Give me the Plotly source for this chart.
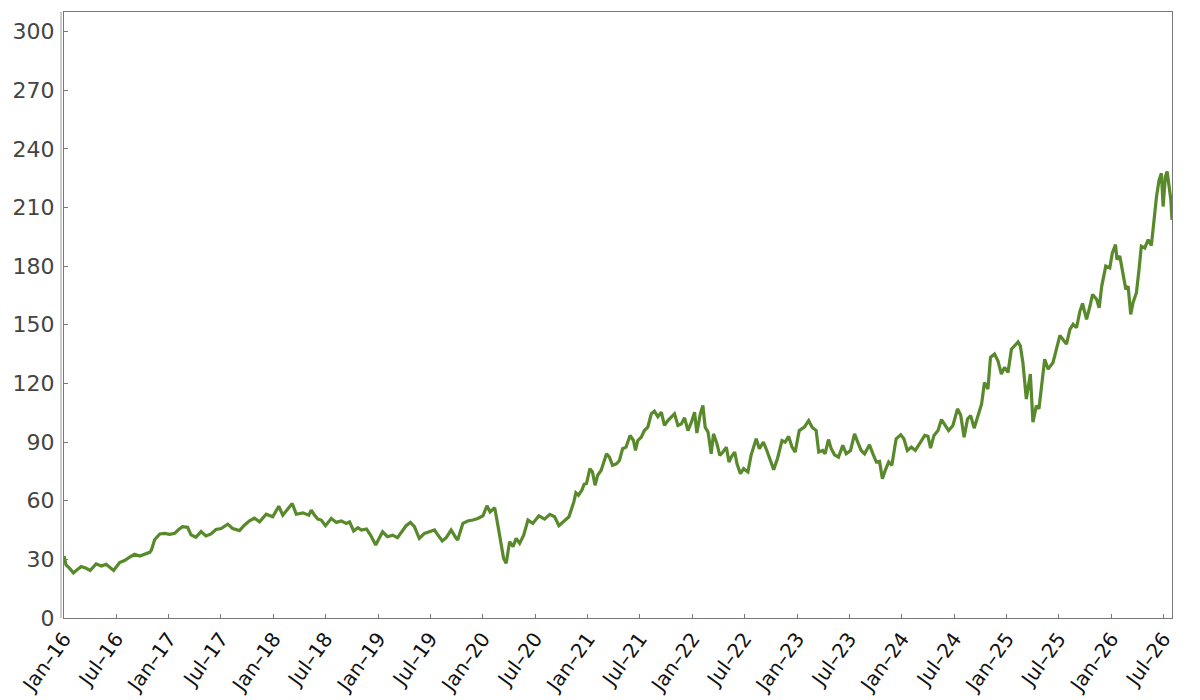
import plotly.graph_objects as go

# Fechas y valores (aprox. cada dos semanas)
dates = [
    "2016-01-01", "2016-01-08", "2016-01-20", "2016-02-03", "2016-02-18", "2016-03-01",
    "2016-03-18", "2016-04-01", "2016-04-22", "2016-05-10", "2016-05-27", "2016-06-14",
    "2016-06-22", "2016-07-13", "2016-07-30", "2016-08-17", "2016-09-03", "2016-09-21",
    "2016-10-08", "2016-10-26", "2016-11-01", "2016-11-12", "2016-11-30", "2016-12-17",
    "2017-01-04", "2017-01-21", "2017-02-02", "2017-02-17", "2017-03-07", "2017-03-19",
    "2017-04-05", "2017-04-23", "2017-05-10", "2017-05-28", "2017-06-14", "2017-07-02",
    "2017-07-25", "2017-08-11", "2017-09-04", "2017-09-21", "2017-10-09", "2017-10-26",
    "2017-11-13", "2017-12-06", "2017-12-29", "2018-01-19", "2018-02-02", "2018-02-20",
    "2018-03-07", "2018-03-21", "2018-04-13", "2018-05-04", "2018-05-12", "2018-05-24",
    "2018-06-04", "2018-06-16", "2018-07-01", "2018-07-21", "2018-08-08", "2018-08-25",
    "2018-09-12", "2018-09-23", "2018-10-07", "2018-10-22", "2018-11-03", "2018-11-21",
    "2018-12-05", "2018-12-23", "2019-01-04", "2019-01-16", "2019-02-02", "2019-02-20",
    "2019-03-09", "2019-03-27", "2019-04-08", "2019-04-23", "2019-05-07", "2019-05-24",
    "2019-06-11", "2019-06-28", "2019-07-16", "2019-07-24", "2019-08-12", "2019-08-26",
    "2019-09-12", "2019-09-30", "2019-10-05", "2019-10-23", "2019-11-09", "2019-11-27",
    "2019-12-14", "2020-01-01", "2020-01-15", "2020-01-26", "2020-02-11", "2020-02-22",
    "2020-03-05", "2020-03-13", "2020-03-22", "2020-04-03", "2020-04-15", "2020-04-26",
    "2020-05-08", "2020-05-22", "2020-06-06", "2020-06-23", "2020-07-14", "2020-08-03",
    "2020-08-21", "2020-09-07", "2020-09-22", "2020-10-12", "2020-10-27", "2020-11-13",
    "2020-11-20", "2020-11-29", "2020-12-11", "2020-12-19", "2020-12-27", "2021-01-08",
    "2021-01-17", "2021-01-26", "2021-02-04", "2021-02-16", "2021-03-07", "2021-03-17",
    "2021-03-28", "2021-04-11", "2021-04-21", "2021-05-02", "2021-05-14", "2021-05-28",
    "2021-06-09", "2021-06-16", "2021-06-24", "2021-07-06", "2021-07-17", "2021-07-29",
    "2021-08-10", "2021-08-21", "2021-09-02", "2021-09-14", "2021-09-25", "2021-10-07",
    "2021-10-19", "2021-10-30", "2021-11-11", "2021-11-23", "2021-12-04", "2021-12-16",
    "2021-12-28", "2022-01-08", "2022-01-16", "2022-01-28", "2022-02-06", "2022-02-14",
    "2022-02-24", "2022-03-07", "2022-03-15", "2022-03-27", "2022-04-06", "2022-04-17",
    "2022-04-29", "2022-05-08", "2022-05-16", "2022-05-28", "2022-06-05", "2022-06-17",
    "2022-06-28", "2022-07-13", "2022-07-24", "2022-08-11", "2022-08-22", "2022-09-05",
    "2022-09-17", "2022-09-29", "2022-10-11", "2022-10-24", "2022-11-09", "2022-11-20",
    "2022-12-02", "2022-12-14", "2022-12-25", "2023-01-08", "2023-01-26", "2023-02-10",
    "2023-02-22", "2023-03-08", "2023-03-17", "2023-03-31", "2023-04-08", "2023-04-20",
    "2023-04-29", "2023-05-11", "2023-05-25", "2023-06-09", "2023-06-21", "2023-07-06",
    "2023-07-20", "2023-07-31", "2023-08-12", "2023-08-24", "2023-09-10", "2023-09-22",
    "2023-10-04", "2023-10-15", "2023-10-25", "2023-11-04", "2023-11-16", "2023-11-27",
    "2023-12-12", "2023-12-28", "2024-01-08", "2024-01-20", "2024-02-03", "2024-02-17",
    "2024-03-03", "2024-03-21", "2024-04-01", "2024-04-10", "2024-04-22", "2024-05-06",
    "2024-05-18", "2024-06-01", "2024-06-12", "2024-06-27", "2024-07-13", "2024-07-24",
    "2024-08-05", "2024-08-17", "2024-08-28", "2024-09-09", "2024-09-23", "2024-10-05",
    "2024-10-15", "2024-10-27", "2024-11-05", "2024-11-19", "2024-12-01", "2024-12-13",
    "2024-12-24", "2025-01-05", "2025-01-17", "2025-01-28", "2025-02-09", "2025-02-17",
    "2025-02-26", "2025-03-10", "2025-03-16", "2025-03-24", "2025-04-02", "2025-04-14",
    "2025-04-23", "2025-05-02", "2025-05-13", "2025-05-25", "2025-06-11", "2025-06-23",
    "2025-07-05", "2025-07-19", "2025-07-28", "2025-08-09", "2025-08-20", "2025-09-01",
    "2025-09-13", "2025-09-22", "2025-10-06", "2025-10-18", "2025-10-27", "2025-11-10",
    "2025-11-19", "2025-11-28", "2025-12-12", "2025-12-26", "2026-01-04", "2026-01-15",
    "2026-01-20", "2026-01-30", "2026-02-08", "2026-02-20", "2026-02-28", "2026-03-09",
    "2026-03-17", "2026-03-29", "2026-04-07", "2026-04-15", "2026-04-27", "2026-05-09",
    "2026-05-20", "2026-05-28", "2026-06-07", "2026-06-16", "2026-06-24", "2026-06-30",
    "2026-07-08", "2026-07-14", "2026-07-21", "2026-07-27", "2026-07-31",
]

values = [
    31.7, 27.2, 25.5, 23.0, 25.0, 26.3,
    25.5, 24.3, 27.7, 26.6, 27.5, 25.5,
    24.3, 28.4, 29.4, 31.1, 32.6, 31.7,
    32.8, 33.6, 34.8, 40.0, 43.0, 43.3,
    42.8, 43.3, 45.0, 46.7, 46.4, 42.5,
    41.3, 44.2, 42.0, 43.0, 45.3, 45.8,
    48.0, 45.8, 44.7, 47.5, 49.7, 51.1,
    49.2, 53.1, 51.8, 57.2, 52.6, 56.0,
    58.6, 53.1, 53.8, 52.6, 55.2, 52.6,
    50.6, 50.1, 47.2, 50.9, 48.9, 49.6,
    48.4, 49.2, 44.5, 46.2, 45.0, 45.5,
    42.4, 37.3, 41.1, 44.1, 41.6, 42.4,
    41.1, 45.0, 47.2, 48.9, 46.7, 40.7,
    43.3, 44.1, 45.0, 43.3, 39.4, 41.1,
    45.0, 40.7, 39.9, 48.4, 49.6, 50.1,
    50.9, 52.3, 57.4, 54.3, 56.4, 47.5,
    37.3, 30.5, 28.0, 39.0, 36.5, 40.7,
    38.2, 42.4, 50.1, 48.4, 52.3, 50.6,
    53.0, 51.8, 47.2, 50.1, 51.8, 59.4,
    64.0, 62.8, 65.4, 68.4, 68.8, 76.4,
    74.7, 67.9, 73.0, 75.5, 84.0, 82.3,
    78.1, 78.9, 80.6, 86.6, 87.4, 93.4,
    90.8, 85.7, 90.8, 92.5, 95.9, 97.6,
    104.4, 105.8, 103.0, 105.3, 98.5, 101.0,
    102.7, 104.4, 98.5, 99.3, 102.4, 95.9,
    100.2, 105.3, 94.6, 104.4, 108.7, 97.6,
    95.1, 84.0, 94.2, 89.1, 83.2, 84.9,
    87.4, 79.8, 82.3, 84.9, 78.9, 73.8,
    76.4, 74.7, 83.2, 91.7, 86.6, 90.0,
    85.7, 80.6, 75.9, 81.5, 90.8, 90.0,
    92.9, 87.4, 84.9, 95.9, 97.6, 101.0,
    97.6, 95.9, 84.9, 85.7, 84.0, 91.3,
    86.9, 83.5, 82.3, 88.3, 84.0, 85.7,
    94.2, 90.0, 85.7, 84.0, 88.6, 84.0,
    79.8, 80.1, 71.3, 75.5, 79.8, 78.1,
    91.7, 93.7, 91.7, 85.7, 87.4, 85.7,
    89.1, 93.4, 93.0, 86.9, 93.4, 95.9,
    101.5, 98.5, 95.9, 98.5, 107.0, 103.9,
    92.5, 101.8, 103.5, 97.1, 104.4, 109.5,
    120.5, 117.1, 133.3, 135.0, 131.6, 124.8,
    128.2, 125.6, 137.5, 139.2, 141.2, 139.2,
    130.7, 112.0, 117.1, 124.8, 100.2, 108.6,
    107.0, 118.8, 132.4, 127.3, 130.7, 137.5,
    144.6, 141.8, 140.1, 147.7, 150.2, 148.5,
    157.0, 160.9, 152.8, 159.6, 165.5, 163.0,
    158.7, 169.8, 180.0, 179.1, 186.8, 191.0,
    183.4, 185.1, 178.3, 168.1, 169.8, 155.3,
    161.3, 166.4, 178.3, 190.2, 189.3, 193.5,
    190.5, 202.0, 215.6, 224.1, 227.5, 210.5,
    225.8, 228.4, 219.0, 213.9, 203.7,
]

y_ticks = [0, 30, 60, 90, 120, 150, 180, 210, 240, 270, 300]

fig = go.Figure()
fig.add_trace(go.Scatter(x=dates, y=values, mode='lines',
                         line=dict(color='#58892a', width=3.2),
                         showlegend=False))

# la página deja 8 px de margen en el body
fig.update_layout(width=1192, height=692,
                  margin=dict(l=56, r=28, t=3, b=80),
                  plot_bgcolor='white', paper_bgcolor='white',
                  font=dict(family='DejaVu Sans'))

fig.update_xaxes(type='date', dtick='M6', tick0='2016-01-01', tickformat='%b–%y',
                 tickangle=-54, ticks='inside', ticklen=4, tickcolor='#777',
                 showline=True, linecolor='#777', linewidth=1, mirror=True,
                 showgrid=False, zeroline=False,
                 tickfont=dict(size=20, color='#111'))
fig.update_yaxes(range=[0, 310], tickvals=y_ticks,
                 ticks='inside', ticklen=4, tickcolor='#777',
                 showline=True, linecolor='#777', linewidth=1, mirror=True,
                 showgrid=False, zeroline=False, ticklabelstandoff=4,
                 tickfont=dict(size=22, color='#444'))

# doble línea en el borde izquierdo
fig.add_shape(type='line', xref='paper', yref='paper', xsizemode='pixel', xanchor=0,
              x0=-3, x1=-3, y0=0, y1=1, line=dict(color='#999', width=1))

fig.write_html("out.html")
